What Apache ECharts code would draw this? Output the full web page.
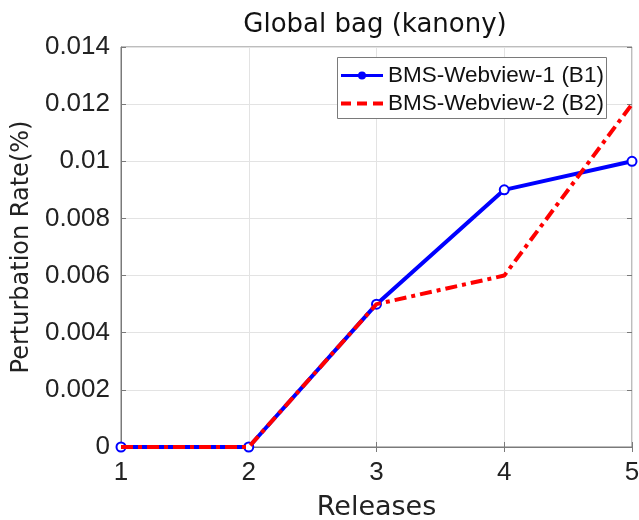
<!DOCTYPE html>
<html>
<head>
<meta charset="utf-8">
<script src="https://cdn.jsdelivr.net/npm/echarts@6/dist/echarts.min.js"></script>
<style>
  html, body { margin: 0; padding: 0; background: #fff; }
  #chart { width: 639px; height: 520px; }
</style>
</head>
<body>
<div id="chart"></div>
<script>
// Release indices along the horizontal axis
const releases = ['1', '2', '3', '4', '5'];
// Perturbation rate (%) per release
const webview1 = [0, 0, 0.005, 0.009, 0.01];
const webview2 = [0, 0, 0.005, 0.006, 0.012];
const seriesNames = ['BMS-Webview-1 (B1)', 'BMS-Webview-2 (B2)'];
const yTicks = [0, 0.002, 0.004, 0.006, 0.008, 0.01, 0.012, 0.014];

const axisGray = '#7a7a7a';
const tickFont = 'Liberation Sans, Arial, sans-serif';
const nameFont = 'DejaVu Sans, sans-serif';

// Legend keys: solid line with a dot, and a dashed line
const keySolidDot = 'path://M0,2.5L17.2,2.5L17.2,5.5L0,5.5Z' +
  'M24.8,2.5L42,2.5L42,5.5L24.8,5.5Z' +
  'M25,4A4,4,0,1,1,17,4A4,4,0,1,1,25,4Z';
const keyDashed = 'path://M0,0L10,0L10,4L0,4Z' +
  'M16,0L26,0L26,4L16,4Z' +
  'M32,0L42,0L42,4L32,4Z';

const fmtY = v => {
  const idx = yTicks.findIndex(t => Math.abs(t - v) < 1e-9);
  return idx >= 0 ? String(+yTicks[idx].toFixed(3)) : '';
};

const legendText = { fontFamily: tickFont, fontSize: 22.5, color: '#111' };

const chart = echarts.init(document.getElementById('chart'), null, { renderer: 'canvas' });

chart.setOption({
  animation: false,
  title: {
    text: 'Global bag (kanony)',
    left: 370, top: 7, textAlign: 'center',
    textStyle: { fontFamily: nameFont, fontSize: 26, fontWeight: 'normal', color: '#111' }
  },
  graphic: [{
    type: 'rect', z: 10,
    shape: { x: 337.5, y: 57.5, width: 269, height: 61 },
    style: { fill: '#fff', stroke: axisGray, lineWidth: 1 }
  }],
  legend: [{
    data: [{ name: seriesNames[0], icon: keySolidDot, itemStyle: { color: '#0000ff', borderWidth: 0 } }],
    left: 341, top: 64, padding: 0, z: 20,
    itemWidth: 42, itemHeight: 8,
    textStyle: legendText
  }, {
    data: [{ name: seriesNames[1], icon: keyDashed, itemStyle: { color: '#ff0000', borderWidth: 0 } }],
    left: 341, top: 92, padding: 0, z: 20,
    itemWidth: 42, itemHeight: 4,
    textStyle: legendText
  }],
  grid: {
    left: 121, right: 7, top: 47, bottom: 73,
    containLabel: false, outerBoundsMode: 'none',
    show: true, borderColor: axisGray, borderWidth: 1, backgroundColor: '#fff'
  },
  xAxis: [{
    type: 'category', data: releases, boundaryGap: false,
    name: 'Releases', nameLocation: 'middle', nameGap: 47,
    nameTextStyle: { fontFamily: nameFont, fontSize: 27, color: '#222' },
    axisLine: { show: true, lineStyle: { color: axisGray } },
    axisTick: { show: true, inside: true, length: 5, alignWithLabel: true, lineStyle: { color: axisGray } },
    axisLabel: { fontFamily: tickFont, fontSize: 26, color: '#222', margin: 13 },
    splitLine: { show: true, lineStyle: { color: '#e3e3e3' } }
  }, {
    type: 'category', data: releases, boundaryGap: false, position: 'top',
    axisLine: { show: false }, axisLabel: { show: false },
    axisTick: { show: true, inside: true, length: 5, lineStyle: { color: axisGray } }
  }],
  yAxis: [{
    type: 'value', min: 0, max: 0.014, interval: 0.002,
    name: 'Perturbation Rate(%)', nameLocation: 'middle', nameGap: 86,
    nameTextStyle: { fontFamily: nameFont, fontSize: 24, color: '#222' },
    axisLine: { show: true, lineStyle: { color: axisGray } },
    axisTick: { show: true, inside: true, length: 5, lineStyle: { color: axisGray } },
    axisLabel: { fontFamily: tickFont, fontSize: 26, color: '#222', margin: 11, formatter: fmtY },
    splitLine: { show: true, lineStyle: { color: '#e3e3e3' } }
  }, {
    type: 'value', min: 0, max: 0.014, interval: 0.002, position: 'right',
    axisLine: { show: false }, axisLabel: { show: false }, splitLine: { show: false },
    axisTick: { show: true, inside: true, length: 5, lineStyle: { color: axisGray } }
  }],
  series: [{
    name: seriesNames[0], type: 'line', data: webview1,
    color: '#0000ff',
    symbol: 'emptyCircle', symbolSize: 9, showAllSymbol: true,
    lineStyle: { width: 4, color: '#0000ff' },
    itemStyle: { color: '#0000ff', borderWidth: 3 },
    z: 2
  }, {
    name: seriesNames[1], type: 'line', data: webview2,
    color: '#ff0000',
    symbol: 'none',
    lineStyle: { width: 4, color: '#ff0000', type: [12, 5, 4, 5] },
    z: 3
  }]
});
</script>
</body>
</html>
